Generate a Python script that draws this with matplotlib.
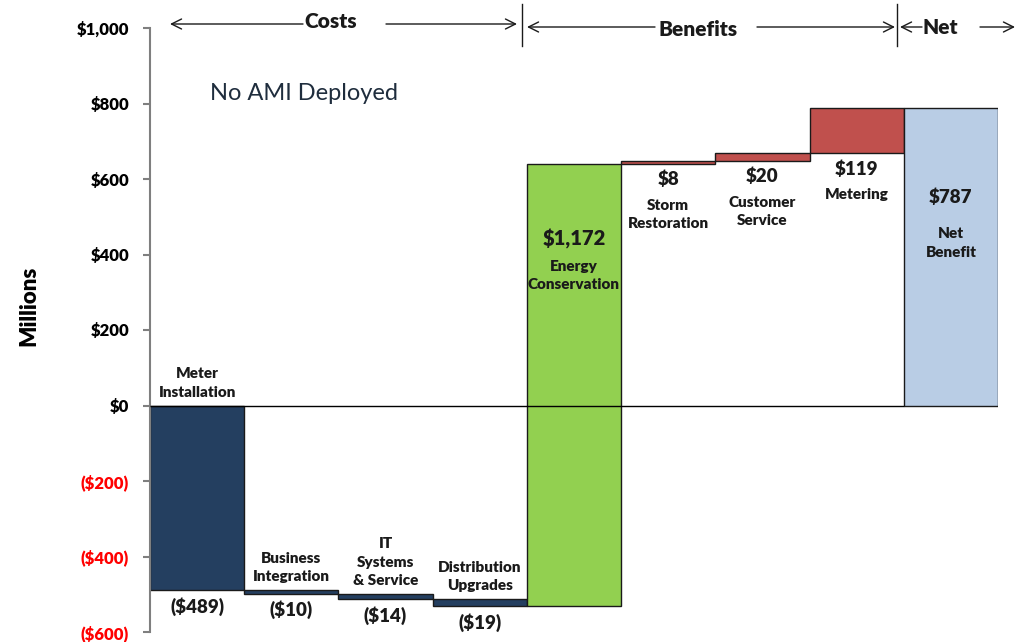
import numpy as np
import matplotlib
matplotlib.use("Agg")
import matplotlib.pyplot as plt
import matplotlib.ticker as ticker

plt.rcParams['font.family'] = ['Lato', 'DejaVu Sans']

# data (millions)
categories = ["Meter\nInstallation", "Business\nIntegration", "IT\nSystems\n& Service",
              "Distribution\nUpgrades", "Energy\nConservation", "Storm\nRestoration",
              "Customer\nService", "Metering", "Net\nBenefit"]
values = [-489, -10, -14, -19, 1172, 8, 20, 119]
value_labels = ["($489)", "($10)", "($14)", "($19)", "$1,172", "$8", "$20", "$119", "$787"]
kinds = ["cost", "cost", "cost", "cost", "energy", "benefit", "benefit", "benefit", "net"]
colors = {"cost": "#243F60", "energy": "#92D050", "benefit": "#C0504D", "net": "#B9CDE5"}
yticks = [-600, -400, -200, 0, 200, 400, 600, 800, 1000]

# waterfall geometry
cum = np.concatenate([[0], np.cumsum(values)])
bottoms = list(cum[:-1]) + [0]
heights = list(values) + [cum[-1]]
x = np.arange(len(categories))

fig = plt.figure(figsize=(10.23, 6.42), dpi=100)
ax = fig.add_axes([150 / 1023, 10 / 642, 848 / 1023, 604 / 642])

ax.bar(x, heights, bottom=bottoms, width=1.0,
       color=[colors[k] for k in kinds], edgecolor="#1a1a1a", linewidth=1.0, zorder=2)
ax.hlines(0, x[0] - 0.5, x[-1] - 0.5, color="black", linewidth=1.0, zorder=3)

ax.set_xlim(-0.5, 8.5)
ax.set_ylim(-600, 1000)
ax.set_xticks([])
for s in ["top", "right", "bottom"]:
    ax.spines[s].set_visible(False)
ax.spines["left"].set_color("#7f7f7f")
ax.spines["left"].set_linewidth(1.5)
ax.set_yticks(yticks)


def fmt(v, pos=None):
    if v < 0:
        return "(${:,.0f})".format(-v)
    return "${:,.0f}".format(v)


ax.yaxis.set_major_formatter(ticker.FuncFormatter(fmt))
ax.tick_params(axis="y", length=5, width=1.5, color="#7f7f7f", pad=10, labelsize=12)
for lbl, v in zip(ax.get_yticklabels(), yticks):
    lbl.set_fontweight("heavy")
    lbl.set_color("red" if v < 0 else "black")

ax.set_ylabel("Millions", fontsize=16, fontweight="heavy")
ax.yaxis.set_label_coords(-0.13, 0.54)

# labels
lab_kw = dict(ha="center", fontsize=11, fontweight="heavy", color="#1a1a1a", linespacing=1.5)
val_kw = dict(ha="center", fontsize=13.5, fontweight="heavy", color="#1a1a1a")
for i in range(len(categories)):
    top = max(bottoms[i], bottoms[i] + heights[i])
    low = min(bottoms[i], bottoms[i] + heights[i])
    if kinds[i] == "cost":
        ax.text(x[i], top + 18, categories[i], va="bottom", **lab_kw)
        ax.text(x[i], low - 18, value_labels[i], va="top", **val_kw)
    elif kinds[i] == "benefit":
        ax.text(x[i], low - 18, value_labels[i], va="top", **val_kw)
        ax.text(x[i], low - 92, categories[i], va="top", **lab_kw)
    elif kinds[i] == "energy":
        ax.text(x[i], 440, value_labels[i], va="center", fontsize=14.5,
                fontweight="heavy", ha="center", color="#1a1a1a")
        ax.text(x[i], 345, categories[i], va="center", **lab_kw)
    else:
        ax.text(x[i], 552, value_labels[i], va="center", **val_kw)
        ax.text(x[i], 430, categories[i], va="center", **lab_kw)

ax.text(210 / 1023, 1 - 93 / 642, "No AMI Deployed", transform=fig.transFigure,
        fontsize=17, color="#1F2D3D", va="center", ha="left")

# header arrows (figure pixels)
H = 642


def harrow(x0, x1, y):
    ax.annotate("", xy=(x1, H - y), xytext=(x0, H - y), xycoords="figure pixels",
                textcoords="figure pixels",
                arrowprops=dict(arrowstyle="->", color="#1a1a1a", lw=1.0,
                                shrinkA=0, shrinkB=0, mutation_scale=18))


harrow(303, 170, 24)
harrow(386, 517, 24)
harrow(655, 527, 27)
harrow(757, 895, 27)
harrow(922, 900, 27)
harrow(980, 1015, 27)
for xp in (522, 897):
    fig.add_artist(plt.Line2D([xp / 1023, xp / 1023], [1 - 4 / H, 1 - 46 / H],
                              color="#1a1a1a", lw=1.0, transform=fig.transFigure))
head_kw = dict(fontsize=15, fontweight="heavy", color="#1a1a1a", ha="center", va="center",
               transform=fig.transFigure)
fig.text(331 / 1023, 1 - 22 / H, "Costs", **head_kw)
fig.text(698 / 1023, 1 - 30 / H, "Benefits", **head_kw)
fig.text(940 / 1023, 1 - 27 / H, "Net", **head_kw)

fig.savefig("out.png", dpi=100)
